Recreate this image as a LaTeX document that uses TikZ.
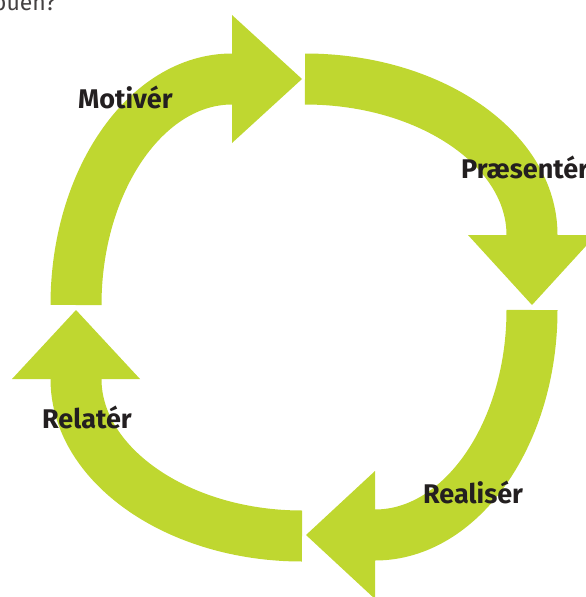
\documentclass[tikz,border=0pt]{standalone}
\usepackage{fontspec}
\setmainfont{Fira Sans}
\definecolor{lime}{RGB}{191,215,48}
\definecolor{ink}{RGB}{35,31,32}
\begin{document}
\begin{tikzpicture}[x=1pt,y=-1pt,
  band/.style={draw=lime, line width=51pt, line cap=butt},
  head/.style={fill=lime},
  lbl/.style={font=\fontsize{27}{27}\selectfont\bfseries, text=ink, inner sep=0pt, anchor=base west}]
\useasboundingbox (0,0) rectangle (586,597);
\clip (0,0) rectangle (586,597);
% arrow 1: Motivér
\coordinate (t1) at (76,305);
\coordinate (e1) at (232,79);
\coordinate (p1) at (302,79);
\draw[band] (t1) .. controls (76,181) and (146,79) .. (e1) -- ++(1,0);
\fill[head] (232,15) -- (p1) -- (232,143) -- cycle;
% arrow 2: Præsentér
\coordinate (t2) at (305,79);
\coordinate (e2) at (532,235);
\coordinate (p2) at (532,305);
\draw[band] (t2) .. controls (430,79) and (532,149) .. (e2) -- ++(0,1);
\fill[head] (468,235) -- (p2) -- (596,235) -- cycle;
% arrow 3: Realisér
\coordinate (t3) at (532,310);
\coordinate (e3) at (375,535);
\coordinate (p3) at (306,535);
\draw[band] (t3) .. controls (532,434) and (461,535) .. (e3) -- ++(-1,0);
\fill[head] (375,471) -- (p3) -- (375,599) -- cycle;
% arrow 4: Relatér
\coordinate (t4) at (302,536);
\coordinate (e4) at (76,379);
\coordinate (p4) at (76,310);
\draw[band] (t4) .. controls (178,536) and (76,465) .. (e4) -- ++(0,-1);
\fill[head] (12,379) -- (p4) -- (140,379) -- cycle;
% labels
\node[lbl] (lmot) at (78,108) {Motivér};
\node[lbl] (lpra) at (461,178) {Præsentér};
\node[lbl] (lrel) at (42,428) {Relatér};
\node[lbl] (lrea) at (423,503) {Realisér};
\node[font=\fontsize{23}{23}\selectfont, text=ink!85, inner sep=0pt, anchor=base east] (top) at (56,10.5) {buen?};
\end{tikzpicture}
\end{document}
